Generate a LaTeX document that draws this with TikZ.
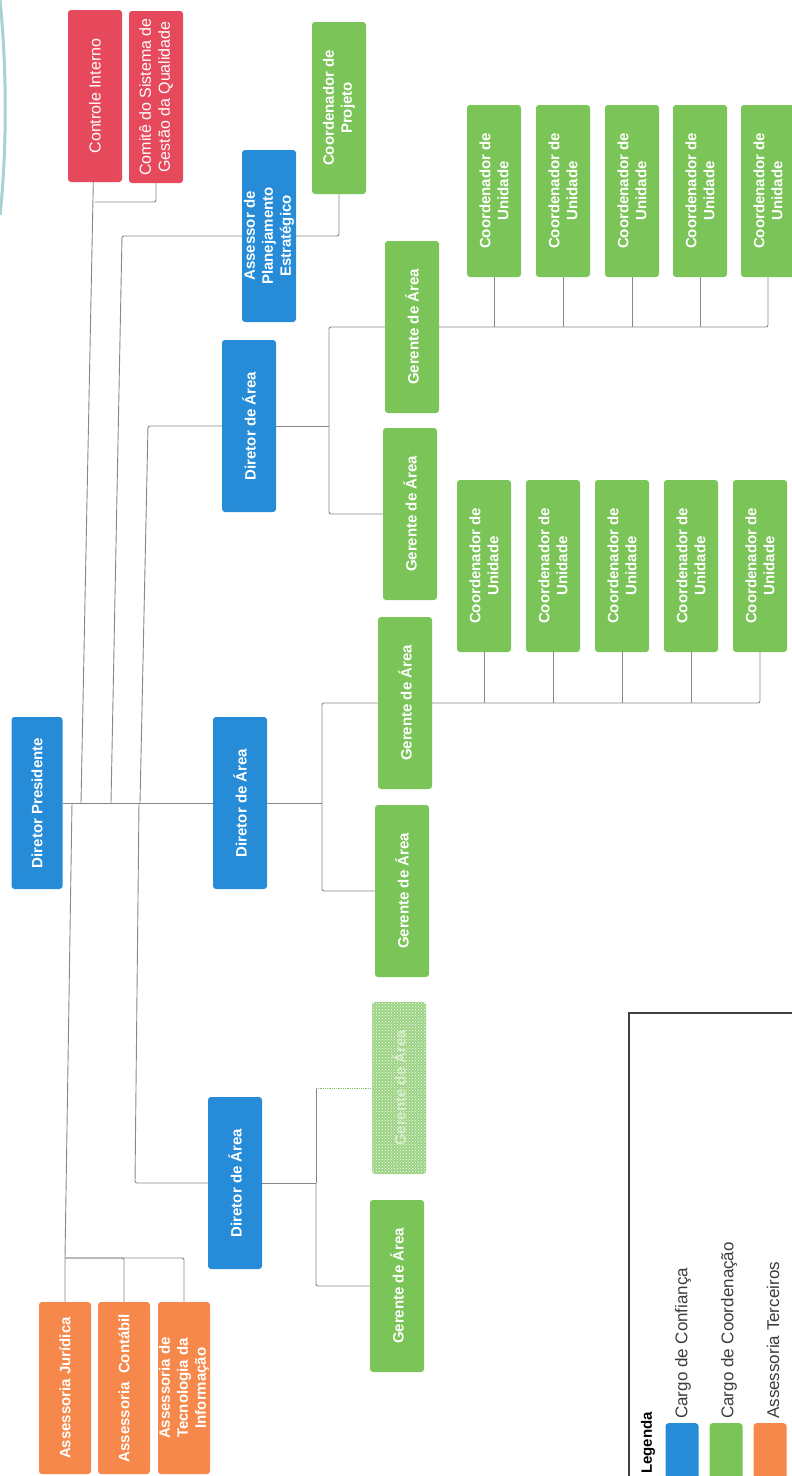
\documentclass[tikz,border=0pt]{standalone}
\usepackage{fontspec}
\setmainfont{Liberation Sans}
\usetikzlibrary{patterns}

\definecolor{azul}{RGB}{38,140,216}
\definecolor{verde}{RGB}{122,196,88}
\definecolor{laranja}{RGB}{245,136,74}
\definecolor{vermelho}{RGB}{230,72,92}
\definecolor{linha}{RGB}{135,135,135}
\definecolor{legtexto}{RGB}{60,60,60}

\begin{document}
\begin{tikzpicture}[x=1pt,y=-1pt]
   \useasboundingbox (0,0) rectangle (792,1476);
   \tikzstyle{cargo}=[rectangle, rounded corners=3pt, rotate=90, minimum width=172pt, minimum height=54pt, inner sep=1pt, text=white, align=center, font=\fontsize{15}{18}\selectfont\bfseries]
   \tikzstyle{confianca}=[cargo, fill=azul]
   \tikzstyle{coord}=[cargo, fill=verde]
   \tikzstyle{terceiro}=[cargo, fill=laranja]
   \tikzstyle{controle}=[cargo, fill=vermelho, font=\fontsize{16}{19}\selectfont]
   \tikzstyle{ligacao}=[draw=linha, line width=0.9pt, rounded corners=2pt]
   \tikzstyle{legtxt}=[rotate=90, anchor=west, inner sep=0pt, text=legtexto, font=\fontsize{17}{20}\selectfont]
   % traco do selo no canto
   \draw[teal!35, line width=3pt] (0,0) .. controls (7,70) and (7,150) .. (0,215);
   % topo
   \node[confianca, minimum height=51pt] (dp) at (37,803) {Diretor Presidente};
   \node[controle] (ctrl) at (95,96) {Controle Interno};
   \node[controle] (comite) at (156,97) {Comitê do Sistema de\\Gestão da Qualidade};
   \node[confianca] (assessor) at (269,236) {Assessor de\\Planejamento\\Estratégico};
   \node[coord] (proj) at (339,108) {Coordenador de\\Projeto};
   \node[terceiro, minimum height=52pt] (jur) at (65,1388) {Assessoria Jurídica};
   \node[terceiro, minimum height=52pt] (cont) at (124,1388) {Assessoria\ \ Contábil};
   \node[terceiro, minimum height=52pt] (tec) at (184,1388) {Assessoria de\\Tecnologia da\\Informação};
   % diretores
   \node[confianca] (da1) at (249,426) {Diretor de Área};
   \node[confianca] (da2) at (240,803) {Diretor de Área};
   \node[confianca] (da3) at (235,1183) {Diretor de Área};
   % gerentes
   \node[coord] (g1a) at (412,327) {Gerente de Área};
   \node[coord] (g1b) at (410,514) {Gerente de Área};
   \node[coord] (g2a) at (405,703) {Gerente de Área};
   \node[coord] (g2b) at (402,891) {Gerente de Área};
   \node[coord, fill=verde!75!white, postaction={pattern=crosshatch dots, pattern color=white}, text=verde!30!white] (g3a) at (399,1088) {Gerente de Área};
   \node[coord] (g3b) at (397,1286) {Gerente de Área};

   \coordinate (jci) at (81,803);
   \coordinate (jas) at (111,803);
   \coordinate (jd1) at (140,803);
   \coordinate (jaj) at (72,803);
   \coordinate (jd3) at (139,803);
   \coordinate (kc) at (95,202);
   \coordinate (kas) at (122,236);
   \coordinate (kd1) at (148,426);
   \coordinate (kaj) at (65,1258);
   \coordinate (kd3) at (135,1183);
   \coordinate (b1) at (329,426);
   \coordinate (b2) at (322,803);
   \coordinate (b3) at (316,1183);

   \draw[ligacao] (dp) -- (da2);
   \draw[ligacao] (jci) -- (ctrl);
   \draw[ligacao] (comite) |- (kc);
   \draw[ligacao] (jas) -- (kas) -- (assessor);
   \draw[ligacao] (assessor) -| (proj);
   \draw[ligacao] (jd1) -- (kd1) -- (da1);
   \draw[ligacao] (jaj) -- (kaj) -- (jur);
   \draw[ligacao] (kaj) -| (cont);
   \draw[ligacao] (kaj) -| (tec);
   \draw[ligacao] (jd3) -- (kd3) -- (da3);

   \draw[ligacao] (da1) -- (b1);
   \draw[ligacao] (b1) |- (g1a);
   \draw[ligacao] (b1) |- (g1b);
   \draw[ligacao] (da2) -- (b2);
   \draw[ligacao] (b2) |- (g2a);
   \draw[ligacao] (b2) |- (g2b);
   \draw[ligacao] (da3) -- (b3);
   \draw[ligacao] (b3) |- (g3b);
   \draw[ligacao] (b3) -- (b3 |- g3a);
   \draw[verde, line width=0.8pt, densely dotted] (b3 |- g3a) -- (g3a);

   % coordenadores de unidade
   \foreach \i/\x in {1/494,2/563,3/632,4/700,5/768} {
       \node[coord] (ca\i) at (\x,191) {Coordenador de\\Unidade};
   }
   \foreach \i/\x in {1/484,2/553,3/622,4/691,5/760} {
       \node[coord] (cb\i) at (\x,566) {Coordenador de\\Unidade};
   }
   \draw[ligacao] (g1a) -| (ca5);
   \draw[ligacao] (g2a) -| (cb5);
   \foreach \i in {1,...,4} {
       \draw[ligacao] (ca\i) -- (ca\i |- g1a);
       \draw[ligacao] (cb\i) -- (cb\i |- g2a);
   }

   % legenda
   \draw[black!75, line width=1.2pt] (629,1480) -- (629,1013) -- (800,1013);
   \node[rotate=90, anchor=west, inner sep=0pt, font=\fontsize{15}{18}\selectfont\bfseries] (legenda) at (648,1474) {Legenda};
   \node[fill=azul, rounded corners=3pt, minimum width=33pt, minimum height=70pt, inner sep=0pt, anchor=north] (kazul) at (682,1423) {};
   \node[fill=verde, rounded corners=3pt, minimum width=33pt, minimum height=70pt, inner sep=0pt, anchor=north] (kverde) at (726,1423) {};
   \node[fill=laranja, rounded corners=3pt, minimum width=33pt, minimum height=70pt, inner sep=0pt, anchor=north] (klaranja) at (770,1423) {};
   \node[legtxt] (tazul) at (683,1419) {Cargo de Confiança};
   \node[legtxt] (tverde) at (729,1419) {Cargo de Coordenação};
   \node[legtxt] (tlaranja) at (773,1419) {Assessoria Terceiros};
\end{tikzpicture}
\end{document}
